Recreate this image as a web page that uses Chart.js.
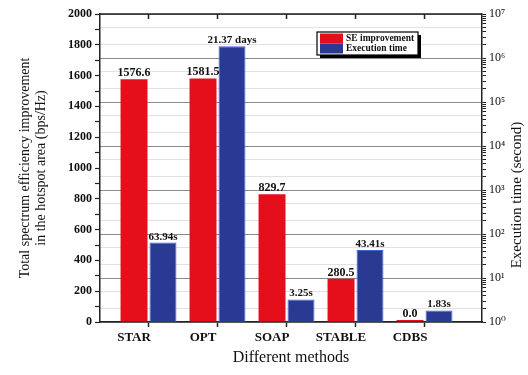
<!DOCTYPE html>
<html><head><meta charset="utf-8">
<script src="https://cdn.jsdelivr.net/npm/chart.js@4.4.1/dist/chart.umd.min.js"></script>
<style>html,body{margin:0;padding:0;background:#fff}#wrap{width:528px;height:375px}</style>
</head><body><div id="wrap"><canvas id="c" width="528" height="375"></canvas></div>
<script>
// ---- data ----
const categories = ['STAR', 'OPT', 'SOAP', 'STABLE', 'CDBS'];
const seImprovement = [1576.6, 1581.5, 829.7, 280.5, 0.0];          // bps/Hz
const executionTime = [63.94, 1846368, 3.25, 43.41, 1.83];          // seconds (OPT = 21.37 days)
const executionLabels = ['63.94s', '21.37 days', '3.25s', '43.41s', '1.83s'];
const leftAxisTicks = [0, 200, 400, 600, 800, 1000, 1200, 1400, 1600, 1800, 2000];
const rightAxisDecades = [0, 1, 2, 3, 4, 5, 6, 7];
const seriesNames = ['SE improvement', 'Execution time'];
const xTitle = 'Different methods';
const leftTitle = ['Total spectrum efficiency improvement', 'in the hotspot area (bps/Hz)'];
const rightTitle = 'Execution time (second)';

const RED = '#e50f1c', BLUE = '#2a3a92';
const SERIF = "'Liberation Serif', 'DejaVu Serif', serif";
const SUP = ['\u2070','\u00b9','\u00b2','\u00b3','\u2074','\u2075','\u2076','\u2077','\u2078','\u2079'];

function isDecade(v) {
  const e = Math.round(Math.log10(v));
  return Math.abs(v - Math.pow(10, e)) < 1e-6 * v;
}

const labelPlugin = {
  id: 'barLabels',
  afterDatasetsDraw(chart) {
    const ctx = chart.ctx;
    ctx.save();
    ctx.fillStyle = '#111';
    ctx.textAlign = 'center';
    ctx.textBaseline = 'alphabetic';
    chart.getDatasetMeta(0).data.forEach((el, i) => {
      ctx.font = 'bold 12px ' + SERIF;
      ctx.fillText(seImprovement[i].toFixed(1), el.x, el.y - 3);
    });
    chart.getDatasetMeta(1).data.forEach((el, i) => {
      ctx.font = 'bold 11px ' + SERIF;
      ctx.fillText(executionLabels[i], el.x, el.y - 3);
    });
    ctx.restore();
  }
};

const framePlugin = {
  id: 'frame',
  afterDraw(chart) {
    const ctx = chart.ctx, a = chart.chartArea;
    ctx.save();
    ctx.strokeStyle = '#222';
    ctx.lineWidth = 1.5;
    ctx.beginPath();
    ctx.moveTo(a.left, a.top); ctx.lineTo(a.right, a.top);
    const xs = chart.scales.x;
    xs.ticks.forEach((t, i) => {
      const px = xs.getPixelForTick(i);
      ctx.moveTo(px, a.top); ctx.lineTo(px, a.top + 5);
    });
    ctx.stroke();
    // right axis title (reads bottom to top)
    ctx.fillStyle = '#111';
    ctx.font = '15px ' + SERIF;
    ctx.translate(517, 195);
    ctx.rotate(-Math.PI / 2);
    ctx.textAlign = 'center';
    ctx.textBaseline = 'middle';
    ctx.fillText(rightTitle, 0, 0);
    ctx.restore();
  }
};

const legendPlugin = {
  id: 'boxLegend',
  afterDraw(chart) {
    const ctx = chart.ctx, a = chart.chartArea;
    const x = a.right - 165, y = a.top + 18, w = 101, h = 23;
    ctx.save();
    ctx.fillStyle = '#000';
    ctx.fillRect(x + 3, y + 3, w, h);
    ctx.fillStyle = '#fff';
    ctx.fillRect(x, y, w, h);
    ctx.strokeStyle = '#000';
    ctx.lineWidth = 1.2;
    ctx.strokeRect(x, y, w, h);
    chart.data.datasets.forEach((ds, i) => {
      ctx.fillStyle = ds.backgroundColor;
      ctx.fillRect(x + 3, y + 1.5 + i * 10, 23, 10);
      ctx.fillStyle = '#111';
      ctx.font = 'bold 9.5px ' + SERIF;
      ctx.textAlign = 'left';
      ctx.textBaseline = 'middle';
      ctx.fillText(ds.label, x + 29, y + 7 + i * 10);
    });
    ctx.restore();
  }
};

new Chart(document.getElementById('c'), {
  type: 'bar',
  data: {
    datasets: [
      {
        label: seriesNames[0],
        data: seImprovement.map((v, i) => ({ x: i, y: v })),
        backgroundColor: RED,
        borderWidth: 0,
        minBarLength: 2,
        yAxisID: 'y',
        categoryPercentage: 0.84,
        barPercentage: 0.93
      },
      {
        label: seriesNames[1],
        data: executionTime.map((v, i) => ({ x: i, y: v })),
        backgroundColor: BLUE,
        borderColor: '#3f63d6',
        borderWidth: 1,
        yAxisID: 'y2',
        categoryPercentage: 0.84,
        barPercentage: 0.93
      }
    ]
  },
  options: {
    responsive: false,
    animation: false,
    layout: { padding: { top: 14, left: 0, right: 0, bottom: 0 } },
    plugins: { legend: { display: false }, tooltip: { enabled: false } },
    scales: {
      x: {
        type: 'linear',
        offset: false,
        min: -0.703,
        max: 4.833,
        afterFit: s => { s.height = 53; },
        ticks: {
          stepSize: 1,
          includeBounds: false,
          autoSkip: false,
          maxRotation: 0,
          labelOffset: -14.5,
          padding: 3,
          color: '#111',
          font: { family: SERIF, size: 13, weight: 'bold' },
          callback: v => (Number.isInteger(v) && v >= 0 && v < categories.length) ? categories[v] : ''
        },
        grid: { offset: false, drawOnChartArea: false, tickLength: 5, tickColor: '#222', tickWidth: 1.5 },
        border: { color: '#222', width: 1.5 },
        title: { display: true, text: xTitle, color: '#111', font: { family: SERIF, size: 16, lineHeight: 1.1 }, padding: { top: 0, bottom: 8 } }
      },
      y: {
        position: 'left',
        min: leftAxisTicks[0],
        max: leftAxisTicks[leftAxisTicks.length - 1],
        afterFit: s => { s.width = 100; },
        ticks: {
          stepSize: 100,
          autoSkip: false,
          padding: 3,
          color: '#111',
          font: { family: SERIF, size: 12, weight: 'bold' },
          callback: v => leftAxisTicks.includes(v) ? String(v) : ''
        },
        grid: { drawOnChartArea: false, tickLength: 5, tickColor: '#222', tickWidth: 1.2 },
        border: { color: '#222', width: 1.5 },
        title: { display: true, text: leftTitle, color: '#111', font: { family: SERIF, size: 14, lineHeight: 1.1 }, padding: { top: 18, bottom: 0 } }
      },
      y2: {
        type: 'logarithmic',
        position: 'right',
        min: Math.pow(10, rightAxisDecades[0]),
        max: Math.pow(10, rightAxisDecades[rightAxisDecades.length - 1]),
        afterFit: s => { s.width = 46; },
        afterBuildTicks: s => {
          const t = [];
          rightAxisDecades.forEach((e, k) => {
            if (k === rightAxisDecades.length - 1) { t.push({ value: Math.pow(10, e) }); return; }
            for (let m = 1; m <= 9; m++) t.push({ value: m * Math.pow(10, e) });
          });
          s.ticks = t;
        },
        ticks: {
          autoSkip: false,
          padding: 3,
          color: '#111',
          font: { family: SERIF, size: 12 },
          callback: v => isDecade(v) ? '10' + SUP[Math.round(Math.log10(v))] : ''
        },
        grid: {
          drawOnChartArea: true,
          tickLength: 4,
          tickColor: '#222',
          tickWidth: 1,
          lineWidth: 1,
          color: c => {
            if (!c.tick) return 'rgba(0,0,0,0)';
            const v = c.tick.value;
            if (isDecade(v)) return '#8c8c8c';
            const m = Math.round(v / Math.pow(10, Math.floor(Math.log10(v) + 1e-9)));
            return (m === 2 || m === 5) ? '#e2e2e2' : 'rgba(0,0,0,0)';
          }
        },
        border: { color: '#222', width: 1.5 }
      }
    }
  },
  plugins: [labelPlugin, framePlugin, legendPlugin]
});
</script>
</body></html>
